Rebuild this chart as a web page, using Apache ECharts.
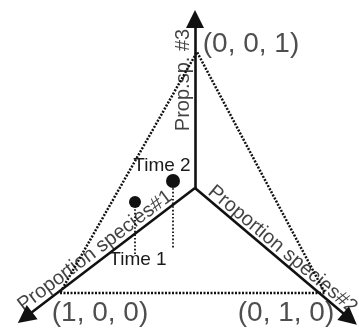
<!DOCTYPE html>
<html><head><meta charset="utf-8">
<script src="https://cdn.jsdelivr.net/npm/echarts@6/dist/echarts.min.js"></script>
<style>html,body{margin:0;padding:0;background:#fff}#c{width:359px;height:329px}</style>
</head><body><div id="c"></div>
<script>
// ---- data (schematic plane, origin = meeting point of the three axes) ----
const vertexLabels = ['(1, 0, 0)', '(0, 1, 0)', '(0, 0, 1)'];
const vertexX = [-1.35, 1.30, 0.02];
const vertexY = [-1.05, -1.05, 1.36];
const axisNames = ['Proportion species#1', 'Proportion species#2', 'Prop.sp. #3'];
const arrowX = [-1.70, 1.55, 0.00];
const arrowY = [-1.295, -1.31, 1.69];
const timeLabels = ['Time 1', 'Time 2'];
const timeX = [-0.60, -0.22];
const timeY = [-0.14, 0.07];
const dropBottomY = [-0.66, -0.60];

// ---- layout / style ----
const FONT = "'Liberation Sans', Arial, sans-serif";
const vertexLabelOffset = [[40, 20], [-39, 20], [54, -8]];
const axisLabelAt = [0.555, 0.526, 0.639];
const axisLabelOffset = [[1, -10.5], [0, -9.5], [0, -12]];   // in the rotated text frame
const axisLabelRotate = [37, -40, 90];
const timeLabelOffset = [[3, 58], [-11, -15]];
const timeDotSize = [12, 14];

const chart = echarts.init(document.getElementById('c'), null, {renderer: 'canvas'});

const triangle = [0, 1, 2, 0].map(i => [vertexX[i], vertexY[i]]);

const option = {
  animation: false,
  backgroundColor: '#fff',
  grid: {left: 0, right: 0, top: 0, bottom: 0},
  xAxis: {type: 'value', min: -1.95, max: 1.64, show: false},
  yAxis: {type: 'value', min: -1.41, max: 1.88, show: false},
  series: [
    {
      type: 'line', data: triangle, symbol: 'none', silent: true, z: 1,
      lineStyle: {color: '#111', width: 2.5, type: [2, 1.5]}
    },
    {
      type: 'lines', coordinateSystem: 'cartesian2d', silent: true, z: 1,
      data: timeX.map((x, i) => ({coords: [[x, timeY[i]], [x, dropBottomY[i]]]})),
      lineStyle: {color: '#111', width: 1.8, type: [1.6, 2], opacity: 1}
    },
    {
      type: 'lines', coordinateSystem: 'cartesian2d', silent: true, z: 3,
      symbol: ['none', 'triangle'], symbolSize: [11, 18],
      data: arrowX.map((x, i) => ({coords: [[0, 0], [x, arrowY[i]]]})),
      lineStyle: {color: '#111', width: 2.6, opacity: 1},
      itemStyle: {color: '#111'}
    },
    {
      type: 'scatter', silent: true, z: 4,
      data: timeX.map((x, i) => ({
        value: [x, timeY[i]], symbolSize: timeDotSize[i],
        label: {offset: timeLabelOffset[i], formatter: timeLabels[i]}
      })),
      itemStyle: {color: '#111', opacity: 1},
      label: {show: true, position: 'inside', fontSize: 19, color: '#1a1a1a', fontFamily: FONT}
    },
    {
      type: 'scatter', silent: true, z: 4, symbolSize: 0,
      data: vertexX.map((x, i) => ({
        value: [x, vertexY[i]],
        label: {offset: vertexLabelOffset[i], formatter: vertexLabels[i]}
      })),
      label: {show: true, position: 'inside', fontSize: 28, color: '#222', fontFamily: FONT}
    },
    {
      type: 'scatter', silent: true, z: 2, symbolSize: 0,
      data: arrowX.map((x, i) => ({
        value: [x * axisLabelAt[i], arrowY[i] * axisLabelAt[i]],
        label: {offset: axisLabelOffset[i], rotate: axisLabelRotate[i], formatter: axisNames[i]}
      })),
      label: {show: true, position: 'inside', fontSize: 20, color: '#111', fontFamily: FONT}
    }
  ]
};
chart.setOption(option);
</script>
</body></html>
